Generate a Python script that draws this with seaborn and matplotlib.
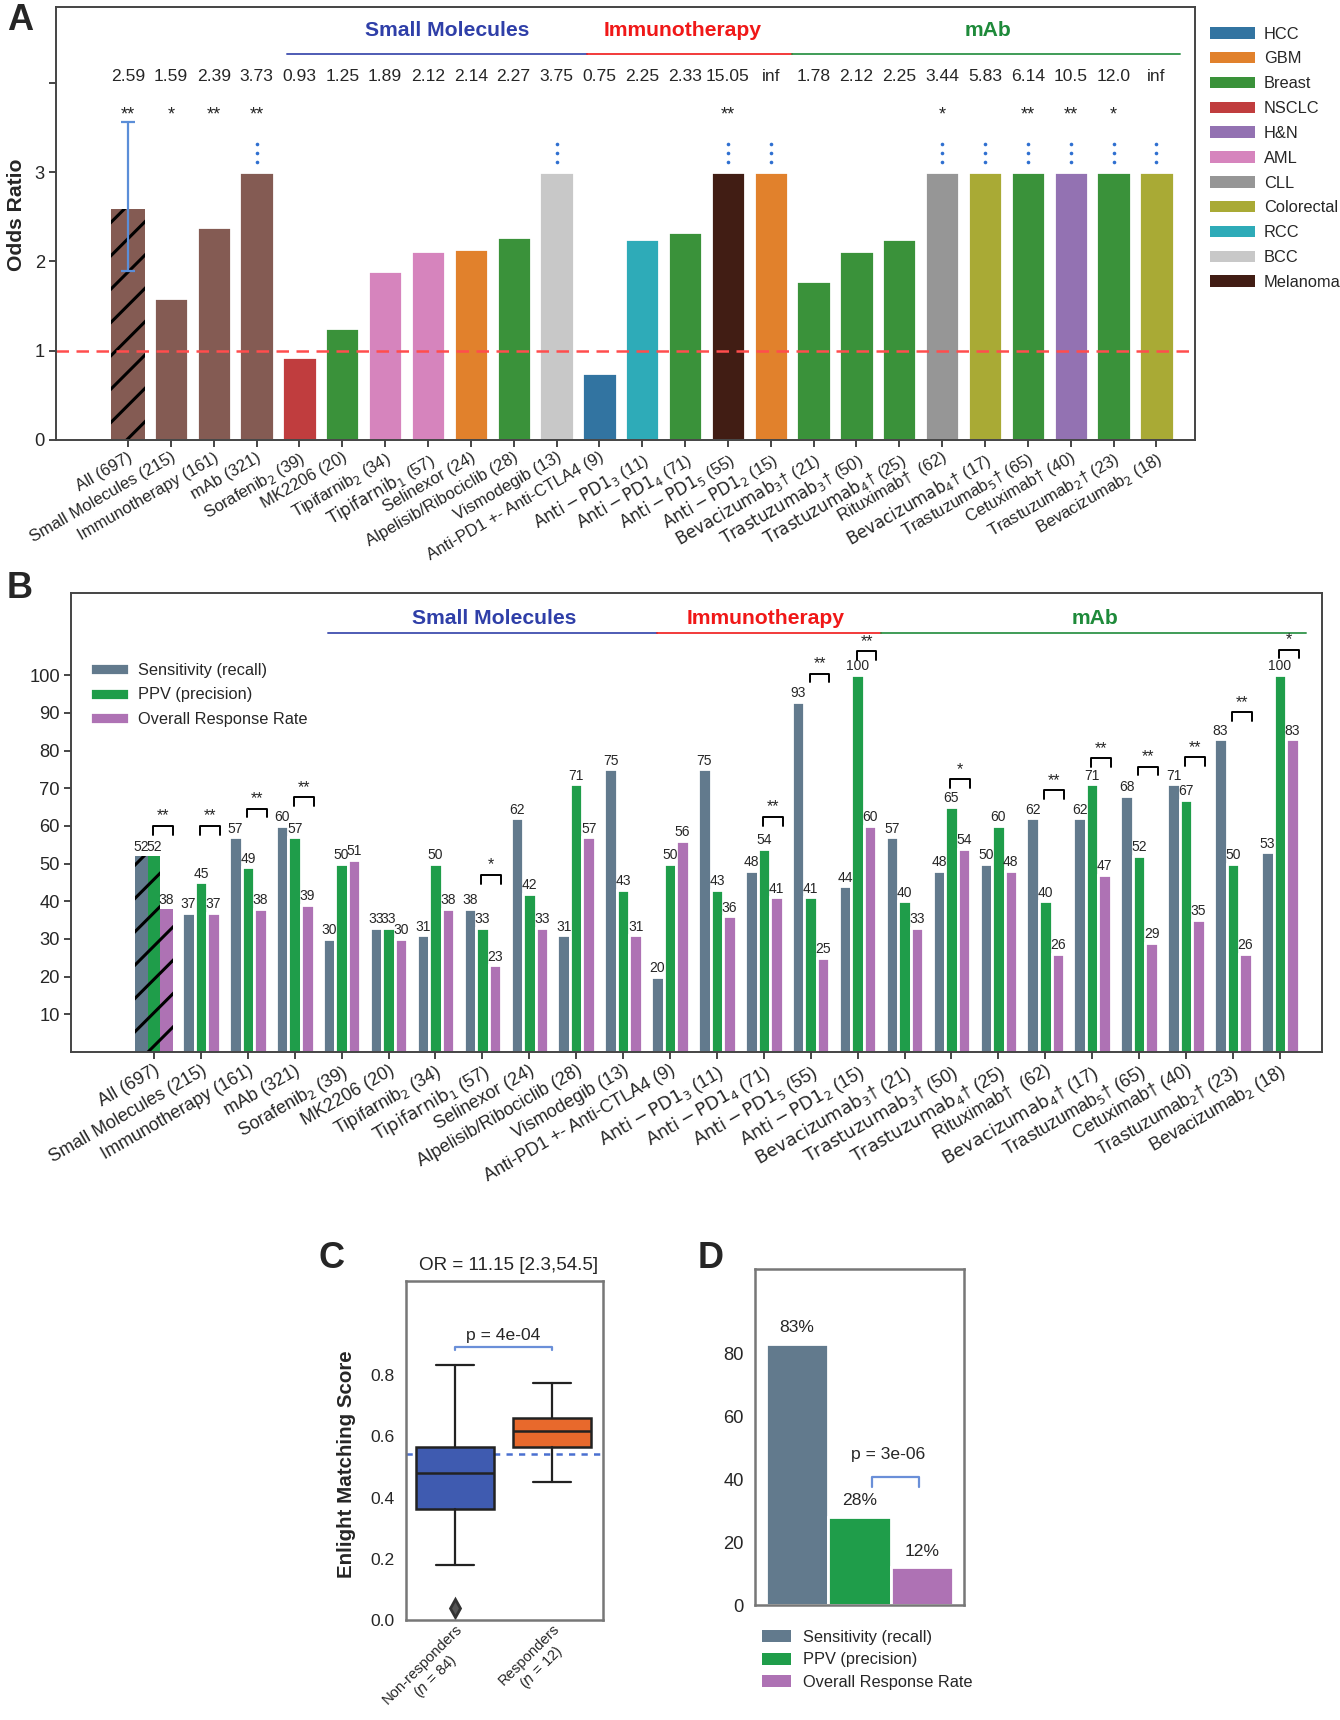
import numpy as np
import pandas as pd
import matplotlib
matplotlib.use("Agg")
import matplotlib.pyplot as plt
from matplotlib.patches import Patch
import seaborn as sns

# ---------------- data ----------------
drug_labels = [
    "All (697)", "Small Molecules (215)", "Immunotherapy (161)", "mAb (321)",
    r"Sorafenib$_2$ (39)", "MK2206 (20)", r"Tipifarnib$_2$ (34)",
    r"$\mathrm{Tipifarnib_1}$ (57)", "Selinexor (24)", "Alpelisib/Ribociclib (28)",
    "Vismodegib (13)", "Anti-PD1 +- Anti-CTLA4 (9)", r"$\mathrm{Anti-PD1_3}$ (11)",
    r"$\mathrm{Anti-PD1_4}$ (71)", r"$\mathrm{Anti-PD1_5}$ (55)", r"$\mathrm{Anti-PD1_2}$ (15)",
    r"$\mathrm{Bevacizumab_3}$† (21)", r"$\mathrm{Trastuzumab_3}$† (50)",
    r"$\mathrm{Trastuzumab_4}$† (25)", "Rituximab†  (62)", r"$\mathrm{Bevacizumab_4}$† (17)",
    r"Trastuzumab$_5$† (65)", "Cetuximab† (40)", r"Trastuzumab$_2$† (23)", r"Bevacizumab$_2$ (18)",
]
odds_ratios = [2.59, 1.59, 2.39, 3.73, 0.93, 1.25, 1.89, 2.12, 2.14, 2.27, 3.75, 0.75, 2.25,
               2.33, 15.05, np.inf, 1.78, 2.12, 2.25, 3.44, 5.83, 6.14, 10.5, 12.0, np.inf]
or_significance = ["**", "*", "**", "**", "", "", "", "", "", "", "", "", "", "",
                   "**", "", "", "", "", "*", "", "**", "**", "*", ""]
bar_cancer = ["Aggregate", "Aggregate", "Aggregate", "Aggregate", "NSCLC", "Breast", "AML", "AML",
              "GBM", "Breast", "BCC", "HCC", "RCC", "Breast", "Melanoma", "GBM", "Breast",
              "Breast", "Breast", "CLL", "Colorectal", "Breast", "H&N", "Breast", "Colorectal"]
cancer_types = ["HCC", "GBM", "Breast", "NSCLC", "H&N", "AML", "CLL", "Colorectal", "RCC", "BCC", "Melanoma"]
cancer_colors = {"HCC": "#1f77b4", "GBM": "#ff7f0e", "Breast": "#2ca02c", "NSCLC": "#d62728",
                 "H&N": "#9467bd", "AML": "#e377c2", "CLL": "#969696", "Colorectal": "#bcbd22",
                 "RCC": "#17becf", "BCC": "#c8c8c8", "Melanoma": "#48190c", "Aggregate": "#8c564b"}
all_ci = [1.89, 3.56]
or_display_cap = 3.0

sensitivity = [52, 37, 57, 60, 30, 33, 31, 38, 62, 31, 75, 20, 75, 48, 93, 44, 57, 48, 50, 62, 62, 68, 71, 83, 53]
ppv =         [52, 45, 49, 57, 50, 33, 50, 33, 42, 71, 43, 50, 43, 54, 41, 100, 40, 65, 60, 40, 71, 52, 67, 50, 100]
orr =         [38, 37, 38, 39, 51, 30, 38, 23, 33, 57, 31, 56, 36, 41, 25, 60, 33, 54, 48, 26, 47, 29, 35, 26, 83]
metric_names = ["Sensitivity (recall)", "PPV (precision)", "Overall Response Rate"]
metric_colors = ["#627a8d", "#1f9d4a", "#ae72b4"]
b_sig_groups = [0, 1, 2, 3, 7, 13, 14, 15, 17, 19, 20, 21, 22, 23, 24]
b_sig_levels = [60, 60, 64.6, 67.6, 47, 62.4, 100.4, 106.4, 72.4, 69.5, 77.9, 75.7, 78.3, 90.1, 106.8]
b_sig_marks = ["**", "**", "**", "**", "*", "**", "**", "**", "*", "**", "**", "**", "**", "**", "*"]

class_names = ["Small Molecules", "Immunotherapy", "mAb"]
class_colors = ["#2f3fa8", "#f01818", "#1e8a3a"]
class_span = [(3.71, 10.72), (10.72, 15.5), (15.5, 24.55)]
class_label_x_A = [7.45, 12.95, 20.07]
class_label_x_B = [7.26, 13.03, 20.07]

box_labels = ["Non-responders\n($n$ = 84)", "Responders\n($n$ = 12)"]
box_whislo = [0.178, 0.450]
box_q1 = [0.364, 0.564]
box_med = [0.480, 0.618]
box_q3 = [0.564, 0.659]
box_whishi = [0.833, 0.775]
box_fliers = [[0.040], []]
box_colors = ["#3f5bb0", "#e8692c"]
score_threshold = 0.543
c_title = "OR = 11.15 [2.3,54.5]"
c_pvalue = "p = 4e-04"

d_values = [83, 28, 12]
d_pvalue = "p = 3e-06"

# ---------------- style ----------------
sns.set_style("ticks")
plt.rcParams["font.family"] = ["Liberation Sans Narrow", "Liberation Sans", "DejaVu Sans"]
plt.rcParams["mathtext.fontset"] = "custom"
plt.rcParams["mathtext.rm"] = "Liberation Sans Narrow"
plt.rcParams["mathtext.it"] = "Liberation Sans Narrow:italic"
plt.rcParams["hatch.linewidth"] = 1.1
plt.rcParams["axes.linewidth"] = 0.7
BOLD = ["Liberation Sans", "DejaVu Sans"]

fig = plt.figure(figsize=(6.7, 8.6), dpi=200)
W, H = 1340, 1720


def px_axes(l, t, r, b):
    return fig.add_axes([l / W, 1 - b / H, (r - l) / W, (b - t) / H])


axA = px_axes(56, 7, 1195, 440)
axB = px_axes(71, 593, 1322, 1052)
axC = px_axes(406, 1281, 603, 1620)
axD = px_axes(755, 1269, 964, 1605)

for ax in (axA, axB):
    for s in ax.spines.values():
        s.set_color("#444444")
for ax in (axC, axD):
    for s in ax.spines.values():
        s.set_color("#777777")
        s.set_linewidth(0.9)

# ---------------- panel A ----------------
dfA = pd.DataFrame({"drug": drug_labels,
                    "bar": np.minimum(np.array(odds_ratios), or_display_cap)})
sns.barplot(data=dfA, x="drug", y="bar", hue="drug", order=drug_labels, hue_order=drug_labels,
            palette=[cancer_colors[c] for c in bar_cancer], saturation=0.75, legend=False,
            width=0.8, ax=axA)
pA = axA.patches[0]
pA.set_hatch("//")
pA.set_edgecolor("black")
pA.set_linewidth(0)
axA.errorbar(0, odds_ratios[0], yerr=[[odds_ratios[0] - all_ci[0]], [all_ci[1] - odds_ratios[0]]],
             color="#5b8ed8", lw=0.8, capsize=2.6, capthick=0.8)
axA.axhline(1, color="#ff4d4d", lw=0.9, dashes=(5, 3))
for i, v in enumerate(odds_ratios):
    axA.text(i, 4.07, str(v), ha="center", va="center", fontsize=6.3)
    if or_significance[i]:
        axA.text(i, 3.64, or_significance[i], ha="center", va="center", fontsize=6.5)
    if v > or_display_cap:
        axA.plot([i, i, i], [3.11, 3.215, 3.32], "o", ms=1.3, color="#2f6fd0", mec="none")
for name, col, (x0, x1), lx in zip(class_names, class_colors, class_span, class_label_x_A):
    axA.plot([x0, x1], [4.32, 4.32], color=col, lw=0.7, alpha=0.85)
    axA.text(lx, 4.585, name, color=col, ha="center", va="center",
             fontsize=7.6, fontweight="bold")
axA.set_xlim(-1.68, 24.9)
axA.set_ylim(0, 4.85)
axA.set_yticks([0, 1, 2, 3, 4])
axA.set_yticklabels(["0", "1", "2", "3", ""])
axA.set_xlabel("")
axA.set_ylabel("Odds Ratio", fontsize=7.6, fontweight="bold", family=BOLD)
axA.yaxis.set_label_coords(-0.026, 0.52)
axA.tick_params(axis="y", labelsize=6.6, length=2.5, width=0.6, pad=1.5)
axA.tick_params(axis="x", labelsize=6.0, length=2.5, width=0.6, pad=1)
plt.setp(axA.get_xticklabels(), rotation=30, ha="right", rotation_mode="anchor")

leg_handles = [Patch(facecolor=sns.desaturate(cancer_colors[c], 0.75), edgecolor="none")
               for c in cancer_types]
fig.legend(leg_handles, cancer_types, loc="upper left", bbox_to_anchor=(1203 / W, 1 - 20 / H),
           frameon=False, fontsize=5.9, handlelength=2.8, handleheight=0.7,
           labelspacing=0.6, handletextpad=0.5, borderaxespad=0)

# ---------------- panel B ----------------
dfB = pd.DataFrame({"drug": drug_labels * 3,
                    "metric": [metric_names[0]] * 25 + [metric_names[1]] * 25 + [metric_names[2]] * 25,
                    "value": sensitivity + ppv + orr})
sns.barplot(data=dfB, x="drug", y="value", hue="metric", order=drug_labels, hue_order=metric_names,
            palette=metric_colors, saturation=1, width=0.8, ax=axB)
for cont in axB.containers:
    cont.patches[0].set_hatch("//")
    cont.patches[0].set_edgecolor("black")
    cont.patches[0].set_linewidth(0)
    axB.bar_label(cont, labels=[f"{int(round(b.get_height()))}" for b in cont.patches],
                  fontsize=5.0, padding=0.6)
for g, lev, mark in zip(b_sig_groups, b_sig_levels, b_sig_marks):
    x0, x1 = g - 0.02, g + 0.40
    axB.plot([x0, x0, x1, x1], [lev - 2.3, lev, lev, lev - 2.3], color="black", lw=0.7)
    axB.text((x0 + x1) / 2, lev + 0.6, mark, ha="center", va="bottom", fontsize=5.8)
for name, col, (x0, x1), lx in zip(class_names, class_colors, class_span, class_label_x_B):
    axB.plot([x0, x1], [111.1, 111.1], color=col, lw=0.7, alpha=0.85)
    axB.text(lx, 115.1, name, color=col, ha="center", va="center",
             fontsize=7.6, fontweight="bold")
axB.set_xlim(-1.77, 24.9)
axB.set_ylim(0, 121.8)
axB.set_yticks(range(10, 101, 10))
axB.set_xlabel("")
axB.set_ylabel("")
axB.tick_params(axis="y", labelsize=6.6, length=2.5, width=0.6, pad=1.5)
axB.tick_params(axis="x", labelsize=6.5, length=2.5, width=0.6, pad=1)
plt.setp(axB.get_xticklabels(), rotation=30, ha="right", rotation_mode="anchor")
axB.legend(loc="upper left", bbox_to_anchor=(0.01, 0.862), frameon=False, fontsize=5.9,
           handlelength=2.4, handleheight=0.75, labelspacing=0.58, handletextpad=0.5,
           borderaxespad=0)

# ---------------- panel C ----------------
stats = [dict(whislo=box_whislo[k], q1=box_q1[k], med=box_med[k], q3=box_q3[k],
              whishi=box_whishi[k], fliers=box_fliers[k], label=box_labels[k]) for k in range(2)]
bp = axC.bxp(stats, positions=[0, 1], widths=0.8, patch_artist=True, capwidths=0.4,
             boxprops=dict(edgecolor="#222222", linewidth=0.9),
             medianprops=dict(color="#222222", linewidth=0.9),
             whiskerprops=dict(color="#222222", linewidth=0.8),
             capprops=dict(color="#222222", linewidth=0.8),
             flierprops=dict(marker="d", markerfacecolor="#555555", markeredgecolor="#333333",
                             markersize=4.5))
for patch, col in zip(bp["boxes"], box_colors):
    patch.set_facecolor(col)
axC.axhline(score_threshold, color="#4a70d0", lw=0.9, dashes=(2.5, 2.5), zorder=0.5)
axC.plot([0, 0, 1, 1], [0.881, 0.893, 0.893, 0.881], color="#6a8fd8", lw=0.8)
axC.text(0.5, 0.905, c_pvalue, ha="center", va="bottom", fontsize=6.3)
axC.set_xlim(-0.505, 1.525)
axC.set_ylim(0, 1.107)
axC.set_yticks([0.0, 0.2, 0.4, 0.6, 0.8])
axC.set_yticklabels(["0.0", "0.2", "0.4", "0.6", "0.8"])
axC.tick_params(axis="y", labelsize=6.3, length=0, pad=4)
axC.tick_params(axis="x", labelsize=5.3, length=0, pad=0.5)
plt.setp(axC.get_xticklabels(), rotation=45, ha="right", rotation_mode="anchor",
         multialignment="center")
axC.set_title(c_title, fontsize=6.8, pad=4, x=0.52)
axC.set_ylabel("Enlight Matching Score", fontsize=7.4, fontweight="bold", family=BOLD)
axC.yaxis.set_label_coords(-0.255, 0.46)

# ---------------- panel D ----------------
sns.barplot(x=metric_names, y=d_values, hue=metric_names, palette=metric_colors, saturation=1,
            width=1.0, legend=False, ax=axD)
for cont, v in zip(axD.containers, d_values):
    axD.bar_label(cont, labels=[f"{v}%"], fontsize=6.3, padding=3)
axD.plot([1.2, 1.2, 1.95, 1.95], [37.4, 40.8, 40.8, 37.4], color="#6a8fd8", lw=0.8)
axD.text(1.45, 45.5, d_pvalue, ha="center", va="bottom", fontsize=6.3)
axD.set_xlim(-0.67, 2.67)
axD.set_ylim(0, 106.7)
axD.set_yticks([0, 20, 40, 60, 80])
axD.set_xticks([])
axD.set_ylabel("")
axD.tick_params(axis="y", labelsize=6.6, length=0, pad=4)
d_handles = [Patch(facecolor=c, edgecolor="none") for c in metric_colors]
axD.legend(d_handles, metric_names, loc="upper left", bbox_to_anchor=(0.0, -0.055), frameon=False,
           fontsize=5.9, handlelength=1.8, handleheight=0.75, labelspacing=0.45,
           handletextpad=0.7, borderaxespad=0)

# ---------------- panel letters ----------------
for letter, (x, y) in zip("ABCD", [(20, 20), (20, 589), (331, 1258), (711, 1258)]):
    fig.text(x / W, 1 - y / H, letter, fontsize=13, fontweight="bold", family=BOLD,
             ha="center", va="center")

fig.savefig("out.png", dpi=200)
